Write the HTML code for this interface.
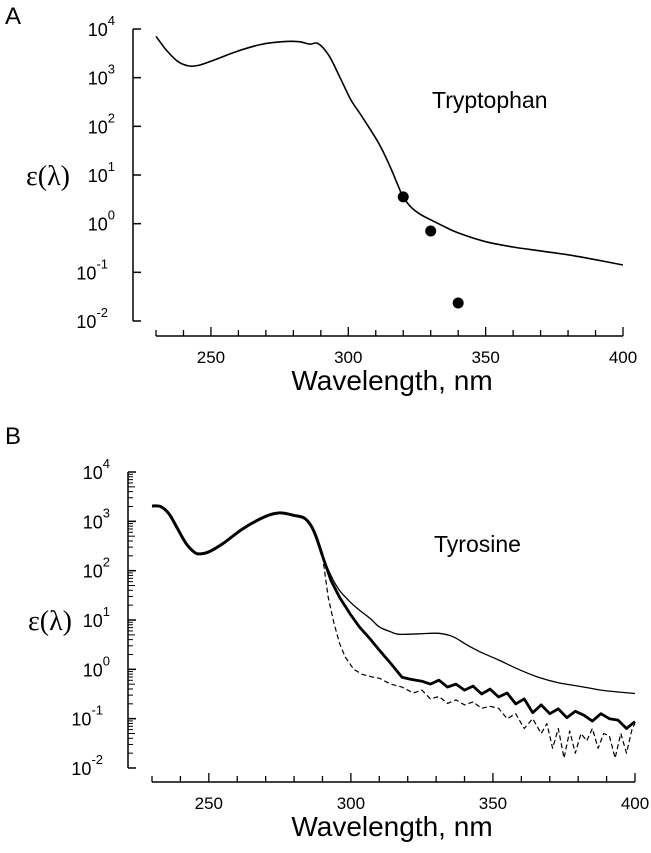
<!DOCTYPE html>
<html><head><meta charset="utf-8"><style>
body{margin:0;background:#fff;}
svg{display:block;font-family:"Liberation Sans",Arial,sans-serif;}
</style></head><body>
<svg id="fig" width="651" height="853" viewBox="0 0 651 853"></svg>
<script>
// Panel A: tryptophan (log10 epsilon)
const trpWl = [230,234,238,242,246,252,260,268,276,282,286,289,293,297,301,305,311,315,318,320,323,326,330,335,340,350,360,370,380,390,400];
const trpLog = [3.85,3.55,3.33,3.24,3.26,3.38,3.55,3.68,3.74,3.74,3.69,3.7,3.45,3.0,2.54,2.2,1.66,1.2,0.8,0.55,0.33,0.2,0.08,-0.06,-0.19,-0.37,-0.48,-0.56,-0.64,-0.74,-0.85];
const trpDotWl = [320,330,340];
const trpDotLog = [0.55,-0.15,-1.63];
// Panel B: tyrosine (log10 epsilon)
const tyrCommonWl = [230,233,236,239,242,245,247,250,255,262,270,275,280,284,287,290];
const tyrCommonLog = [3.31,3.3,3.15,2.85,2.55,2.37,2.34,2.38,2.55,2.85,3.1,3.17,3.12,3.05,2.8,2.3];
const tyrThinWl = [290,293,296,300,303,307,310,314,317,324,331,336,341,346,352,359,366,373,380,388,394,398,400];
const tyrThinLog = [2.3,1.9,1.6,1.35,1.2,1.02,0.86,0.76,0.71,0.72,0.73,0.66,0.49,0.34,0.19,0.0,-0.16,-0.27,-0.34,-0.42,-0.46,-0.48,-0.49];
const tyrThickWl = [290,293,296,300,303,307,310,314,318,321,325,328,331,334,337,340,343,346,349,352,355,358,361,364,367,370,373,376,379,382,385,388,391,394,397,400];
const tyrThickLog = [2.3,1.8,1.46,1.1,0.86,0.6,0.39,0.12,-0.16,-0.2,-0.24,-0.3,-0.22,-0.36,-0.3,-0.42,-0.34,-0.5,-0.4,-0.56,-0.48,-0.7,-0.6,-0.88,-0.72,-0.9,-0.8,-0.98,-0.85,-0.93,-1.05,-0.9,-1.0,-1.03,-1.2,-1.06];
const tyrDashWl = [290,292,294,296,298,301,304,307,310,314,318,322,325,328,331,334,337,340,343,346,349,352,355,358,361,364,367,369,371,373,375,377,379,381,383,385,387,389,391,393,395,397,399,400];
const tyrDashLog = [2.3,1.46,0.95,0.53,0.25,0.0,-0.1,-0.15,-0.18,-0.3,-0.36,-0.48,-0.42,-0.6,-0.55,-0.69,-0.62,-0.72,-0.66,-0.79,-0.75,-0.79,-1.0,-0.9,-1.2,-1.0,-1.3,-1.1,-1.6,-1.2,-1.8,-1.25,-1.7,-1.3,-1.45,-1.2,-1.6,-1.3,-1.35,-1.8,-1.3,-1.7,-1.2,-1.1];
const yTickExps = [4,3,2,1,0,-1,-2];
const xTickLabels = [250,300,350,400];

const NS="http://www.w3.org/2000/svg";
const svg=document.getElementById('fig');
function el(tag,attrs,parent){const e=document.createElementNS(NS,tag);for(const k in attrs)e.setAttribute(k,attrs[k]);(parent||svg).appendChild(e);return e;}
function smoothPath(pts){
  let d='M'+pts[0][0].toFixed(1)+','+pts[0][1].toFixed(1);
  for(let i=0;i<pts.length-1;i++){
    const p0=pts[Math.max(i-1,0)],p1=pts[i],p2=pts[i+1],p3=pts[Math.min(i+2,pts.length-1)];
    const c1=[p1[0]+(p2[0]-p0[0])/6,p1[1]+(p2[1]-p0[1])/6];
    const c2=[p2[0]-(p3[0]-p1[0])/6,p2[1]-(p3[1]-p1[1])/6];
    d+=' C'+c1[0].toFixed(1)+','+c1[1].toFixed(1)+' '+c2[0].toFixed(1)+','+c2[1].toFixed(1)+' '+p2[0].toFixed(1)+','+p2[1].toFixed(1);
  }
  return d;
}

function panel(cfg){
  const g=el('g',{});
  
  
  const X=w=>cfg.x0+(w-230)*(cfg.x400-cfg.x0)/170;
  const Y=l=>cfg.y4+(4-l)*(cfg.ym2-cfg.y4)/6;
  const ya=el('line',{x1:cfg.yax,y1:Y(4),x2:cfg.yax,y2:Y(-2),stroke:'#000','stroke-width':1.5},g);
  
  
  yTickExps.forEach(e=>{
    el('line',{x1:cfg.yax,y1:Y(e),x2:cfg.yax+8,y2:Y(e),stroke:'#000','stroke-width':1.5},g);
    if(cfg.minor&&e>-2){for(let m=2;m<10;m++){const yy=Y(e-1+Math.log10(m));el('line',{x1:cfg.yax,y1:yy,x2:cfg.yax+(m==5?7:5),y2:yy,stroke:'#000','stroke-width':1},g);}}
    const t=el('text',{y:Y(e)+7,'font-size':18,'text-anchor':'end'},g);
    
    
    t.textContent='10';
    const s=el('tspan',{dy:-11,'font-size':13},t);s.textContent=String(e);
    t.setAttribute('x',cfg.yax-10-(e<0?15:8));
  });
  const xa=el('line',{x1:X(230),y1:cfg.xay,x2:X(400),y2:cfg.xay,stroke:'#000','stroke-width':1.5},g);
  
  
  for(let w=230;w<=400;w+=10){const maj=w%50==0;el('line',{x1:X(w),y1:cfg.xay,x2:X(w),y2:cfg.xay-(maj?9:6),stroke:'#000','stroke-width':1.3},g);}
  xTickLabels.forEach(w=>{const t=el('text',{x:X(w),y:cfg.xay+27,'font-size':17,'text-anchor':'middle'},g);
    
    
    t.textContent=w;});
  const xt=el('text',{x:cfg.xtx,y:cfg.xay+54,'font-size':28,'text-anchor':'middle'},g);
  
  
  xt.textContent='Wavelength, nm';
  const yt=el('text',{x:cfg.ytx,y:Y(1)+10,'font-size':28,'font-family':'"Liberation Serif",serif'},g);
  
  
  yt.textContent='ε(λ)';
  const lb=el('text',{x:cfg.lx,y:cfg.ly,'font-size':23},g);
  
  
  lb.textContent=cfg.title;
  const pl=el('text',{x:5,y:cfg.ply,'font-size':24},g);
  
  
  pl.textContent=cfg.letter;
  cfg.series.forEach(s=>{
    const pts=s.wl.map((w,i)=>[X(w),Y(s.v[i])]);
    const p=el('path',{d:s.jag?('M'+pts.map(p=>p[0].toFixed(1)+','+p[1].toFixed(1)).join(' L')):smoothPath(pts),fill:'none',stroke:'#000','stroke-width':s.w,'stroke-dasharray':s.dash||'none','stroke-linejoin':'round'},g);
    
    
  });
  if(cfg.dots)cfg.dots.wl.forEach((w,i)=>{const c=el('circle',{cx:X(w),cy:Y(cfg.dots.v[i]),r:5.5,fill:'#000'},g);
    
    });
}
panel({name:'panel-a-tryptophan',x0:156,x400:623,y4:29,ym2:321,yax:133,xay:336,minor:false,ytx:26,xtx:392,lx:432,ly:108,title:'Tryptophan',letter:'A',ply:24,
  series:[{name:'tryptophan-curve',wl:trpWl,v:trpLog,w:1.6}],dots:{wl:trpDotWl,v:trpDotLog}});
panel({name:'panel-b-tyrosine',x0:152,x400:635,y4:472,ym2:768,yax:128,xay:782,minor:true,ytx:28,xtx:392,lx:434,ly:552,title:'Tyrosine',letter:'B',ply:444,
  series:[{name:'tyrosine-common-curve',wl:tyrCommonWl,v:tyrCommonLog,w:3},
          {name:'tyrosine-thin-curve',wl:tyrThinWl,v:tyrThinLog,w:1.3},
          {name:'tyrosine-thick-curve',wl:tyrThickWl,v:tyrThickLog,w:2.8,jag:true},
          {name:'tyrosine-dashed-curve',wl:tyrDashWl,v:tyrDashLog,w:1.2,dash:'5,3',jag:true}]});
</script>
</body></html>
